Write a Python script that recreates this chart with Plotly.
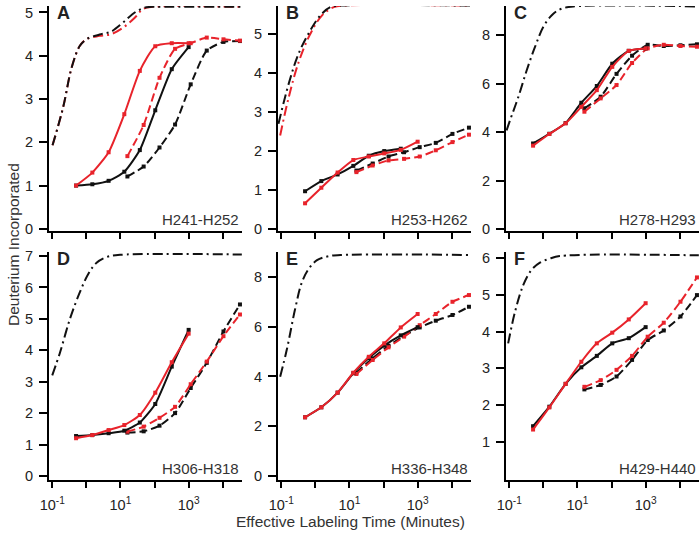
import plotly.graph_objects as go

W, H = 700, 533
RED = "#e8232b"
BLK = "#111111"

# time points (minutes)
T_SOLID = [0.5, 1.5, 4.5, 13, 37, 105, 320, 1000]
T_DASH = [16, 48, 140, 400, 1150, 3400, 10500, 32000]

# ---- Panel A (H241-H252)
A_black_solid = [1.0, 1.03, 1.11, 1.32, 1.82, 2.74, 3.69, 4.20]
A_red_solid = [1.0, 1.30, 1.77, 2.65, 3.65, 4.22, 4.29, 4.29]
A_black_dash = [1.21, 1.44, 1.88, 2.41, 3.34, 4.12, 4.32, 4.34]
A_red_dash = [1.68, 2.40, 3.49, 4.16, 4.29, 4.42, 4.38, 4.35]
A_theo_t = [0.102, 0.209, 0.372, 0.646, 1.05, 2.45, 5.37, 12.0, 26.3, 57.5, 141, 36300]
A_theo_black = [1.93, 2.81, 3.73, 4.23, 4.39, 4.49, 4.56, 4.77, 5.0, 5.12, 5.13, 5.13]
A_theo_red_t = [0.102, 0.209, 0.372, 0.646, 1.05, 2.45, 5.37, 12.0, 26.3, 46, 89, 36300]
A_theo_red = [1.93, 2.81, 3.73, 4.23, 4.39, 4.46, 4.50, 4.65, 4.88, 5.08, 5.13, 5.13]

# ---- Panel B (H253-H262)
B_black_solid = [0.97, 1.23, 1.40, 1.62, 1.88, 2.0, 2.06]
B_red_solid = [0.66, 1.06, 1.45, 1.77, 1.86, 1.94, 2.03, 2.24]
B_black_dash = [1.50, 1.68, 1.86, 1.97, 2.10, 2.21, 2.44, 2.60]
B_red_dash = [1.46, 1.63, 1.76, 1.80, 1.86, 2.02, 2.23, 2.42]
B_theo_t = [0.083, 0.166, 0.324, 0.708, 1.41, 2.75, 5.5, 36300]
B_theo_black = [2.70, 3.73, 4.50, 5.09, 5.48, 5.69, 5.73, 5.73]
B_theo_red_t = [0.093, 0.166, 0.324, 0.708, 1.58, 3.47, 6.9, 36300]
B_theo_red = [2.40, 3.38, 4.28, 5.0, 5.48, 5.69, 5.73, 5.73]

# ---- Panel C (H278-H293)
C_black_solid = [3.53, 3.93, 4.37, 5.21, 5.90, 6.82, 7.35, 7.45]
C_red_solid = [3.44, 3.92, 4.36, 5.04, 5.73, 6.69, 7.35, 7.45]
C_black_dash = [4.98, 5.46, 6.40, 7.15, 7.60, 7.55, 7.58, 7.62]
C_red_dash = [4.84, 5.39, 5.94, 6.85, 7.45, 7.60, 7.55, 7.52]
C_theo_t = [0.0835, 0.105, 0.184, 0.324, 0.566, 0.993, 1.74, 3.06, 7.53, 36300]
C_theo_black = [4.07, 4.48, 5.44, 6.54, 7.50, 8.33, 8.81, 9.06, 9.18, 9.18]

# ---- Panel D (H306-H318)
D_black_solid = [1.27, 1.30, 1.36, 1.44, 1.70, 2.29, 3.48, 4.65]
D_red_solid = [1.20, 1.30, 1.46, 1.62, 1.94, 2.65, 3.62, 4.53]
D_black_dash = [1.38, 1.42, 1.60, 2.0, 2.80, 3.60, 4.60, 5.46]
D_red_dash = [1.41, 1.57, 1.85, 2.20, 2.92, 3.64, 4.45, 5.14]
D_theo_t = [0.1, 0.17, 0.331, 0.646, 1.15, 2.0, 3.98, 9.77, 36300]
D_theo_black = [3.2, 3.94, 5.0, 5.85, 6.44, 6.79, 6.97, 7.04, 7.05]

# ---- Panel E (H336-H348)
E_black_solid = [2.36, 2.76, 3.35, 4.13, 4.74, 5.24, 5.65, 5.98]
E_red_solid = [2.36, 2.76, 3.35, 4.15, 4.79, 5.33, 5.97, 6.51]
E_black_dash = [4.15, 4.73, 5.23, 5.63, 5.97, 6.24, 6.47, 6.80]
E_red_dash = [4.10, 4.66, 5.17, 5.60, 6.06, 6.51, 7.0, 7.27]
E_theo_t = [0.093, 0.148, 0.257, 0.407, 0.646, 1.12, 2.24, 5.5, 36300]
E_theo_black = [3.99, 5.12, 6.73, 7.80, 8.33, 8.67, 8.82, 8.88, 8.88]

# ---- Panel F (H429-H440)
F_black_solid = [1.43, 1.96, 2.58, 3.03, 3.34, 3.68, 3.82, 4.12]
F_red_solid = [1.34, 1.94, 2.58, 3.18, 3.68, 3.97, 4.33, 4.77]
F_black_dash = [2.43, 2.55, 2.78, 3.23, 3.77, 4.03, 4.41, 4.99]
F_red_dash = [2.50, 2.68, 2.96, 3.34, 3.86, 4.24, 4.81, 5.47]
F_theo_t = [0.093, 0.148, 0.257, 0.447, 0.794, 1.55, 3.02, 36300]
F_theo_black = [3.68, 4.54, 5.26, 5.67, 5.87, 5.98, 6.05, 6.07]

LETTERS = ["A", "B", "C", "D", "E", "F"]
PEPTIDES = ["H241-H252", "H253-H262", "H278-H293", "H306-H318", "H336-H348", "H429-H440"]
X_TICKVALS = [0.1, 10, 1000]
X_TICKTEXT = ["10<sup>-1</sup>", "10<sup>1</sup>", "10<sup>3</sup>"]
X_MINOR_TICKVALS = [1, 100, 10000]

panels = [
    dict(bs=A_black_solid, rs=A_red_solid, bd=A_black_dash, rd=A_red_dash,
         tt=A_theo_t, tb=A_theo_black, trt=A_theo_red_t, tr=A_theo_red,
         yr=[-0.05, 5.15], yt=[0, 1, 2, 3, 4, 5]),
    dict(bs=B_black_solid, rs=B_red_solid, bd=B_black_dash, rd=B_red_dash,
         tt=B_theo_t, tb=B_theo_black, trt=B_theo_red_t, tr=B_theo_red,
         yr=[-0.05, 5.72], yt=[0, 1, 2, 3, 4, 5]),
    dict(bs=C_black_solid, rs=C_red_solid, bd=C_black_dash, rd=C_red_dash,
         tt=C_theo_t, tb=C_theo_black, trt=None, tr=None,
         yr=[-0.08, 9.2], yt=[0, 2, 4, 6, 8]),
    dict(bs=D_black_solid, rs=D_red_solid, bd=D_black_dash, rd=D_red_dash,
         tt=D_theo_t, tb=D_theo_black, trt=None, tr=None,
         yr=[-0.13, 7.13], yt=[0, 1, 2, 3, 4, 5, 6, 7]),
    dict(bs=E_black_solid, rs=E_red_solid, bd=E_black_dash, rd=E_red_dash,
         tt=E_theo_t, tb=E_theo_black, trt=None, tr=None,
         yr=[-0.16, 9.0], yt=[0, 2, 4, 6, 8]),
    dict(bs=F_black_solid, rs=F_red_solid, bd=F_black_dash, rd=F_red_dash,
         tt=F_theo_t, tb=F_theo_black, trt=None, tr=None,
         yr=[-0.03, 6.16], yt=[1, 2, 3, 4, 5, 6]),
]

# layout geometry (pixels)
COLS = [(49, 242), (278, 471), (506, 699)]
ROWS = [(6, 231), (252, 480)]
XRANGE = [-1.095, 4.565]


def px(x):
    return x / W


def py(y):
    return 1 - y / H


fig = go.Figure()
layout = dict(
    template="none",
    width=W, height=H, autosize=False, margin=dict(l=0, r=0, t=0, b=0, pad=0),
    paper_bgcolor="white", plot_bgcolor="white", showlegend=False,
    font=dict(family="Arial, Liberation Sans, sans-serif", color="#222", size=13),
)
annotations = []

DASH = "8px,4px"
DASHDOT = "10px,4px,2px,4px"

for i, p in enumerate(panels):
    r, c = divmod(i, 3)
    n = i + 1
    xa = "x" if n == 1 else f"x{n}"
    ya = "y" if n == 1 else f"y{n}"

    def add(x, y, color, dash, marker=True, smooth=0.6):
        fig.add_trace(go.Scatter(
            x=x, y=y, xaxis=xa, yaxis=ya,
            mode="lines+markers" if marker else "lines",
            line=dict(color=color, width=2, dash=dash, shape="spline", smoothing=smooth),
            marker=dict(symbol="square", size=4, color=color, line=dict(width=0)),
            hoverinfo="skip"))

    if p["tr"] is not None:
        add(p["trt"], p["tr"], RED, DASHDOT, marker=False, smooth=1.0)
    add(p["tt"], p["tb"], BLK, DASHDOT, marker=False, smooth=1.0)
    add(T_DASH[:len(p["bd"])], p["bd"], BLK, DASH)
    add(T_DASH[:len(p["rd"])], p["rd"], RED, DASH)
    add(T_SOLID[:len(p["bs"])], p["bs"], BLK, "solid")
    add(T_SOLID[:len(p["rs"])], p["rs"], RED, "solid")

    x0, x1 = COLS[c]
    y0, y1 = ROWS[r]
    layout["xaxis" if n == 1 else f"xaxis{n}"] = dict(
        type="log", range=XRANGE, domain=[px(x0), px(x1)], anchor=ya,
        automargin=False,
        showline=True, linecolor="black", linewidth=2, ticks="outside",
        ticklen=6, tickwidth=2, tickcolor="black", showgrid=False, zeroline=False,
        tickvals=X_TICKVALS, ticktext=X_TICKTEXT, showticklabels=(r == 1),
        ticklabelstandoff=5,
        tickfont=dict(size=14.5, color="#222"),
        minor=dict(tickvals=X_MINOR_TICKVALS, ticks="outside", ticklen=6,
                   tickwidth=2, tickcolor="black", showgrid=False),
    )
    layout["yaxis" if n == 1 else f"yaxis{n}"] = dict(
        range=p["yr"], domain=[py(y1), py(y0)], anchor=xa,
        automargin=False,
        showline=True, linecolor="black", linewidth=2, ticks="outside",
        ticklen=8, tickwidth=2, tickcolor="black", showgrid=False, zeroline=False,
        ticklabelstandoff=3,
        tickvals=p["yt"], tickfont=dict(size=14.5, color="#222"),
    )
    annotations.append(dict(
        text=f"<b>{LETTERS[i]}</b>", xref="paper", yref="paper",
        x=px(x0 + 6), y=py(y0 + 7), xanchor="left", yanchor="middle",
        showarrow=False, font=dict(size=18, color="#222")))
    annotations.append(dict(
        text=PEPTIDES[i], xref="paper", yref="paper",
        x=px(x1 - 1), y=py(y1 - 12), xanchor="right", yanchor="middle",
        showarrow=False, font=dict(size=15, color="#333")))

annotations.append(dict(
    text="Effective Labeling Time (Minutes)", xref="paper", yref="paper",
    x=px(350), y=py(521), xanchor="center", yanchor="middle", showarrow=False,
    font=dict(size=15.5, color="#333")))
annotations.append(dict(
    text="Deuterium Incorporated", xref="paper", yref="paper",
    x=px(14), y=py(245), xanchor="center", yanchor="middle", showarrow=False,
    textangle=-90, font=dict(size=15.5, color="#333")))

layout["annotations"] = annotations
fig.update_layout(**layout)
fig.write_html(
    "out.html",
    config={"displayModeBar": False, "responsive": False},
    post_script="document.body.style.margin='0';document.body.style.overflow='hidden';",
)
